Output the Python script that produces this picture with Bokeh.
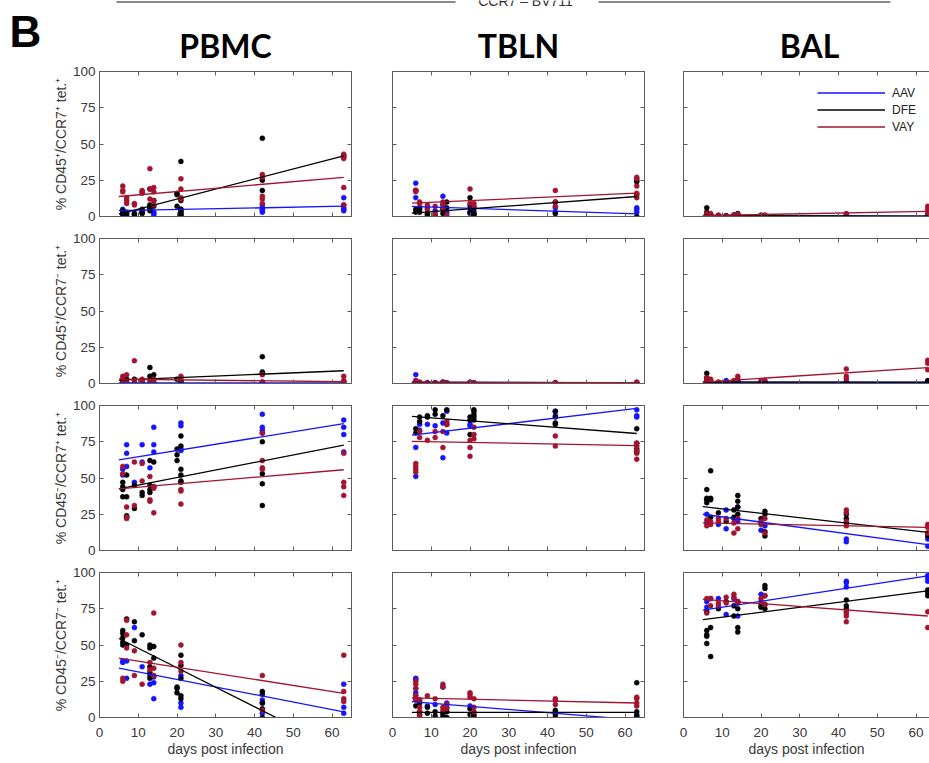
from bokeh.plotting import figure
from bokeh.layouts import column, row
from bokeh.models import Range1d, LinearAxis, FixedTicker, Legend, LegendItem
from bokeh.embed import file_html
from bokeh.resources import INLINE
from bokeh.core.properties import value

# ---------------- data ----------------
GROUPS = ["AAV", "DFE", "VAY"]
TISSUES = ["PBMC", "TBLN", "BAL"]
Y_LABELS = ["% CD45\u207a/CCR7\u207a tet.\u207a",
            "% CD45\u207a/CCR7\u207b tet.\u207a",
            "% CD45\u207b/CCR7\u207a tet.\u207a",
            "% CD45\u207b/CCR7\u207b tet.\u207a"]
X_TICKS = [0, 10, 20, 30, 40, 50, 60]
Y_TICKS = [0, 25, 50, 75, 100]
X_LABEL = "days post infection"
PANEL_LETTER = "B"
TOP_CAPTION = "CCR7 \u2013 BV711"
FIT_DAYS = [5, 63]

# Row 1: CD45+/CCR7+  (day: values)
PBMC1_AAV = {6: [5, 4, 2, 1], 7: [1, 0], 9: [2], 11: [4, 3], 13: [6, 5], 14: [3, 2, 1], 21: [5, 4, 2, 1], 42: [8, 6, 5, 4, 3], 63: [13, 8, 6, 5, 4]}
PBMC1_DFE = {6: [4, 3, 2, 2], 7: [3, 2], 9: [2, 1], 11: [5, 3, 2], 13: [19, 8, 7, 6, 4], 14: [11, 7], 20: [16, 15, 7], 21: [38, 11, 5, 3, 1], 42: [54, 25, 18], 63: [42]}
PBMC1_VAY = {6: [21, 18, 17], 7: [13, 11, 9], 9: [9, 8], 11: [18, 17, 16], 13: [33, 19, 12], 14: [20, 17, 11, 8], 21: [26, 19, 13, 12], 42: [29, 27, 14, 12, 9], 63: [43, 41, 40, 20, 8]}
TBLN1_AAV = {6: [23, 18, 13], 7: [5], 9: [6], 11: [4], 13: [14, 8], 14: [3], 20: [6, 3, 2], 21: [4, 2], 42: [6, 3], 63: [6, 5, 3]}
TBLN1_DFE = {6: [5, 3], 7: [6, 3], 9: [2, 1], 11: [1], 13: [5, 2], 14: [10, 6], 20: [13, 8, 3], 21: [6, 2, 1], 42: [10, 2], 63: [25, 24, 15, 0]}
TBLN1_VAY = {6: [18, 18, 17], 7: [10, 9], 9: [8, 5], 11: [7, 2], 13: [10, 8, 5], 14: [1], 20: [19, 9], 21: [9, 7], 42: [18, 10, 7], 63: [27, 26, 21, 16, 13]}
BAL1_AAV = {6: [1, 0.5], 7: [0.5, 0], 9: [0.5], 11: [0.5], 13: [0.5], 14: [0.5], 20: [0.5], 21: [0.5], 42: [0.3], 63: [0.5]}
BAL1_DFE = {6: [6, 3, 1], 7: [1], 9: [0.5], 11: [0.5], 13: [1], 14: [2, 1], 20: [0.5], 21: [0.5], 42: [0.7], 63: [1, 0]}
BAL1_VAY = {6: [2, 1, 0.5], 7: [2, 1], 9: [1], 11: [0.5], 13: [1], 14: [1.5], 20: [1], 21: [1], 42: [2, 1.5], 63: [7, 5, 2]}

# Row 2: CD45+/CCR7-
PBMC2_AAV = {6: [0.5, 0.2], 7: [0.5], 9: [0.3], 11: [0.5], 13: [0.4], 14: [0.5], 21: [1, 0.5], 42: [1, 0.5], 63: [0.5]}
PBMC2_DFE = {6: [2], 7: [3], 9: [3], 11: [2], 13: [11, 5], 14: [6], 20: [3], 21: [2, 0], 42: [18.5, 8, 7], 63: [1]}
PBMC2_VAY = {6: [5, 3, 2], 7: [6, 1], 9: [15.7, 2], 11: [3, 2], 13: [2], 14: [3, 1], 21: [5, 3], 42: [6, 1], 63: [5, 2, 1]}
TBLN2_AAV = {6: [6, 1], 7: [0.5], 9: [0.5], 11: [0.5], 13: [1], 14: [0.5], 20: [0.5], 21: [0.5], 42: [0.5], 63: [0.5]}
TBLN2_DFE = {6: [1], 7: [0.5], 9: [0.3], 11: [0.3], 13: [0.5], 14: [0.3], 20: [0.5], 21: [0.3], 42: [0.3], 63: [0.3]}
TBLN2_VAY = {6: [2, 1], 7: [1], 9: [0.5], 11: [0.5], 13: [1], 14: [0.5], 20: [1], 21: [0.5], 42: [0.5], 63: [1, 0.5]}
BAL2_AAV = {6: [1, 0.5], 7: [0.5], 9: [0.5], 11: [2], 13: [1], 14: [0.5], 20: [0.5], 21: [0.5], 42: [0.5], 63: [0.5]}
BAL2_DFE = {6: [7, 4, 1], 7: [1], 9: [0.5], 11: [0.5], 13: [1], 14: [2, 1], 20: [0.5], 21: [1], 42: [1], 63: [2, 1]}
BAL2_VAY = {6: [4, 3, 2], 7: [3, 2], 9: [1], 11: [0.5], 13: [2, 1], 14: [5, 3], 20: [2], 21: [2], 42: [10, 5, 3], 63: [16, 14, 9.5]}

# Row 3: CD45-/CCR7+
PBMC3_AAV = {6: [56, 52], 7: [73, 67, 58], 9: [47], 11: [73, 61], 13: [57], 14: [85, 73, 68], 21: [88, 86, 70, 69], 42: [94, 85, 83, 81], 63: [90, 85, 80, 68]}
PBMC3_DFE = {6: [47, 44, 42, 37], 7: [52, 37, 24, 23], 9: [45, 29], 11: [40, 38], 13: [62, 45, 42, 40], 14: [61, 44], 20: [70, 66, 62], 21: [79, 72, 56, 52, 48, 47], 42: [75, 53, 46, 31]}
PBMC3_VAY = {6: [58, 53], 7: [30, 23, 22], 9: [61, 31], 11: [60, 48], 13: [51, 35, 34], 14: [44, 43, 26], 21: [42, 41, 32], 42: [81, 62, 57, 56], 63: [67, 47, 44, 38]}
TBLN3_AAV = {6: [71, 51], 7: [87, 83], 9: [87], 11: [86], 13: [88, 64], 14: [96, 81], 20: [87, 86], 42: [96, 93], 63: [97, 93, 92]}
TBLN3_DFE = {6: [84, 81], 7: [92, 89], 9: [93, 92], 11: [97, 94], 13: [93], 14: [97, 87], 20: [92, 90, 80], 21: [97, 96, 94, 92, 90], 42: [96, 92, 88, 87], 63: [84, 74, 70, 68]}
TBLN3_VAY = {6: [60, 58, 56, 54], 7: [82, 78], 9: [76], 11: [82, 78], 13: [82, 71], 14: [89, 87], 20: [76, 71, 65], 21: [85, 80, 77], 42: [79, 72], 63: [74, 72, 69, 67, 63]}
BAL3_AAV = {6: [25, 19], 9: [18], 11: [28, 15], 13: [22], 14: [30, 20], 20: [14], 21: [17], 42: [8, 6], 63: [8, 3]}
BAL3_DFE = {6: [42, 36, 35, 33], 7: [55, 36, 35, 23], 9: [26], 11: [20], 13: [28, 23], 14: [38, 34, 30, 25], 20: [22, 19], 21: [27, 25, 13, 10], 42: [25, 22, 19], 63: [12, 10]}
BAL3_VAY = {6: [21, 17], 7: [20, 18], 9: [22, 20], 11: [22], 13: [19, 12], 14: [22, 15], 20: [20, 18], 21: [22, 12], 42: [28, 26, 20, 17], 63: [18, 16, 12]}

# Row 4: CD45-/CCR7-
PBMC4_AAV = {6: [39, 38], 7: [39, 27], 9: [62], 11: [35], 13: [29, 23], 14: [28, 24, 13], 21: [29, 10, 7], 42: [12, 10, 3], 63: [23, 7, 3]}
PBMC4_DFE = {6: [60, 58, 55, 52, 50], 7: [68, 50], 9: [66, 53], 11: [57], 13: [50, 48, 35, 31, 27], 14: [49, 41], 20: [21, 20, 17], 21: [43, 36, 27, 15, 13], 42: [18, 16, 10, 6, 0]}
PBMC4_VAY = {6: [27, 25], 7: [67, 57, 48], 9: [46, 29], 11: [23], 13: [38, 33], 14: [72, 34, 29], 21: [50, 38, 32], 42: [29, 5], 63: [43, 18, 13, 11]}
TBLN4_AAV = {6: [27, 26, 20, 17, 15], 7: [12], 9: [8], 11: [9], 13: [21], 14: [10, 7], 20: [8], 42: [3.5], 63: [2]}
TBLN4_DFE = {6: [13, 8], 7: [10, 4, 2], 9: [7, 3], 11: [4, 1], 13: [3, 1], 14: [4, 0], 20: [6, 2], 21: [2, 0.5], 42: [5, 2, 0], 63: [24, 4, 1, 0]}
TBLN4_VAY = {6: [25, 23, 20, 15, 12], 7: [12, 7, 4, 1], 9: [15], 11: [13], 13: [23, 21, 7, 5], 14: [9, 6], 20: [17, 16, 14], 21: [13, 7, 4], 42: [13, 12, 9], 63: [14, 13, 10, 8]}
BAL4_AAV = {6: [80, 76], 7: [82], 9: [82], 11: [71], 13: [82], 14: [80, 70], 20: [85], 21: [84], 42: [94, 93, 90], 63: [98, 96, 94]}
BAL4_DFE = {6: [73, 60, 57, 56, 51], 7: [62, 42], 9: [75], 11: [80], 13: [77, 70], 14: [75, 62, 59], 20: [77, 76], 21: [91, 89, 78, 75], 42: [81, 77, 75], 63: [88, 86, 84]}
BAL4_VAY = {6: [82, 72], 7: [82, 77], 9: [79, 77], 11: [83, 79], 13: [85, 83], 14: [80, 79], 20: [82, 80], 21: [84, 78], 42: [73, 72, 70, 66], 63: [73, 62]}

# fitted-line values at FIT_DAYS (start, end)
FIT1 = [{"AAV": [4, 7.1], "DFE": [1.7, 41.8], "VAY": [13.8, 27]},
        {"AAV": [7, 1.8], "DFE": [2.3, 13.8], "VAY": [9.2, 16.1]},
        {"AAV": [0.5, 0.2], "DFE": [0.8, 0.2], "VAY": [0.6, 3.5]}]
FIT2 = [{"AAV": [0.5, 0.5], "DFE": [2.3, 8.8], "VAY": [3, 1.2]},
        {"AAV": [0.9, 0.5], "DFE": [0.6, 0.4], "VAY": [0.9, 0.6]},
        {"AAV": [1, 0.8], "DFE": [1, 1], "VAY": [1, 11]}]
FIT3 = [{"AAV": [62.5, 87.5], "DFE": [42.5, 72.7], "VAY": [42.5, 55.7]},
        {"AAV": [79.5, 98], "DFE": [92.5, 80.7], "VAY": [75.3, 72.3]},
        {"AAV": [25, 4], "DFE": [30.2, 12.5], "VAY": [19, 16]}]
FIT4 = [{"AAV": [34, 3.9], "DFE": [54.5, -23.5], "VAY": [41, 16.7]},
        {"AAV": [11, -1.7], "DFE": [3.5, 3.5], "VAY": [13.5, 10]},
        {"AAV": [74, 97.7], "DFE": [67.5, 87.3], "VAY": [81.5, 70]}]

PANEL_DATA = [
    [{"AAV": PBMC1_AAV, "DFE": PBMC1_DFE, "VAY": PBMC1_VAY},
     {"AAV": TBLN1_AAV, "DFE": TBLN1_DFE, "VAY": TBLN1_VAY},
     {"AAV": BAL1_AAV, "DFE": BAL1_DFE, "VAY": BAL1_VAY}],
    [{"AAV": PBMC2_AAV, "DFE": PBMC2_DFE, "VAY": PBMC2_VAY},
     {"AAV": TBLN2_AAV, "DFE": TBLN2_DFE, "VAY": TBLN2_VAY},
     {"AAV": BAL2_AAV, "DFE": BAL2_DFE, "VAY": BAL2_VAY}],
    [{"AAV": PBMC3_AAV, "DFE": PBMC3_DFE, "VAY": PBMC3_VAY},
     {"AAV": TBLN3_AAV, "DFE": TBLN3_DFE, "VAY": TBLN3_VAY},
     {"AAV": BAL3_AAV, "DFE": BAL3_DFE, "VAY": BAL3_VAY}],
    [{"AAV": PBMC4_AAV, "DFE": PBMC4_DFE, "VAY": PBMC4_VAY},
     {"AAV": TBLN4_AAV, "DFE": TBLN4_DFE, "VAY": TBLN4_VAY},
     {"AAV": BAL4_AAV, "DFE": BAL4_DFE, "VAY": BAL4_VAY}],
]
FITS = [FIT1, FIT2, FIT3, FIT4]

# ---------------- styling ----------------
COLORS = {"AAV": "#1414ff", "DFE": "#000000", "VAY": "#a2142f"}
AXIS_COLOR = "#5c5c5c"
TEXT_COLOR = "#3a3a3a"
FONT = "Liberation Sans"
TITLE_FONT = "Lato"

COL_W = [352, 294, 283]
LEFT_B = [99, 40, 37]
RIGHT_B = [1, 2, 0]
FRAME_W = [252, 252, 246]
FRAME_H = 145
HEADER_H = 62
FIRST_TOP_B = 9
TOP_B = 12


def flatten(d):
    xs, ys = [], []
    for day, vals in d.items():
        for v in vals:
            xs.append(day)
            ys.append(v)
    return xs, ys


def style_axis(ax, show_labels):
    ax.axis_line_color = AXIS_COLOR
    ax.axis_line_width = 1
    ax.major_tick_line_color = AXIS_COLOR
    ax.major_tick_in = 4
    ax.major_tick_out = 0
    ax.minor_tick_line_color = None
    ax.major_label_text_font = FONT
    ax.axis_label_text_font = FONT
    ax.axis_label_text_font_style = "normal"
    ax.axis_label_text_color = TEXT_COLOR
    ax.axis_label_text_font_size = "14px"
    if show_labels:
        ax.major_label_text_font_size = "13.5px"
        ax.major_label_text_color = TEXT_COLOR
    else:
        # ticks only: labels are not drawn
        ax.major_label_text_font_size = "1px"
        ax.major_label_text_color = None
        ax.major_label_standoff = 0


def make_panel(r, c):
    top_b = FIRST_TOP_B if r == 0 else TOP_B
    bot_b = 46 if r == 3 else 10
    xend = 65 * FRAME_W[c] / 252.0
    p = figure(width=COL_W[c], height=top_b + FRAME_H + bot_b,
               x_range=Range1d(0, xend), y_range=Range1d(0, 100),
               output_backend="svg", toolbar_location=None,
               x_axis_location=None, y_axis_location=None,
               min_border_left=LEFT_B[c], min_border_right=RIGHT_B[c],
               min_border_top=top_b, min_border_bottom=bot_b)
    p.grid.visible = False
    p.background_fill_color = "white"
    p.border_fill_color = "white"
    if c < 2:
        p.outline_line_color = AXIS_COLOR
        p.outline_line_width = 1
    else:
        p.outline_line_color = None

    bottom = LinearAxis(ticker=FixedTicker(ticks=X_TICKS))
    style_axis(bottom, r == 3)
    if r == 3:
        bottom.axis_label = X_LABEL
        bottom.major_label_standoff = 10
        bottom.axis_label_standoff = 1
    p.add_layout(bottom, "below")

    left = LinearAxis(ticker=FixedTicker(ticks=Y_TICKS))
    style_axis(left, c == 0)
    if c == 0:
        left.axis_label = Y_LABELS[r]
        left.major_label_standoff = 4
        left.axis_label_standoff = 1
    p.add_layout(left, "left")

    top = LinearAxis(ticker=FixedTicker(ticks=X_TICKS))
    style_axis(top, False)
    p.add_layout(top, "above")
    if c < 2:
        right = LinearAxis(ticker=FixedTicker(ticks=Y_TICKS))
        style_axis(right, False)
        p.add_layout(right, "right")

    data = PANEL_DATA[r][c]
    fit = FITS[r][c]
    for g in GROUPS:
        xs, ys = flatten(data[g])
        p.scatter(xs, ys, size=5, color=COLORS[g], line_color=COLORS[g], line_width=0.5)
    lines = {}
    for g in GROUPS:
        lines[g] = p.line(FIT_DAYS, fit[g], line_color=COLORS[g], line_width=1.3)

    if r == 0 and c == 2:
        legend = Legend(items=[LegendItem(label=g, renderers=[lines[g]]) for g in GROUPS],
                        location=(134, 81), orientation="vertical",
                        border_line_color=None, background_fill_alpha=0,
                        padding=0, margin=0, spacing=0,
                        glyph_width=68, glyph_height=17, label_height=17,
                        label_standoff=7, label_text_font=FONT,
                        label_text_font_size="12px", label_text_color="#222222")
        p.add_layout(legend)
    return p


# header with panel letter and column titles (y measured upward from header bottom)
header = figure(width=929, height=HEADER_H, x_range=Range1d(0, 929), y_range=Range1d(0, HEADER_H),
                output_backend="svg", toolbar_location=None,
                min_border_left=0, min_border_right=0, min_border_top=0, min_border_bottom=0,
                x_axis_location=None, y_axis_location=None)
header.grid.visible = False
header.outline_line_color = None
header.background_fill_color = "white"
header.border_fill_color = "white"

TITLE_X = [225, 518, 809]
header.text(x=TITLE_X, y=[17.5, 17.5, 17.5], text=TISSUES, text_font=value(TITLE_FONT),
            text_font_style="bold", text_font_size="32px", text_align="center",
            text_baseline="alphabetic", text_color="#000000")
header.text(x=[9], y=[HEADER_H - 31], text=[PANEL_LETTER], text_font=value(FONT), text_font_style="bold",
            text_font_size="44px", text_align="left", text_baseline="alphabetic", text_color="#000000")
header.text(x=[525], y=[HEADER_H], text=[TOP_CAPTION], text_font=value(FONT), text_font_size="14px",
            text_align="center", text_baseline="alphabetic", text_color="#333333")
header.line([116, 455], [HEADER_H - 1.5, HEADER_H - 1.5], line_color="#8a8a8a", line_width=2)
header.line([598, 890], [HEADER_H - 1.5, HEADER_H - 1.5], line_color="#8a8a8a", line_width=2)

rows = [header]
for r in range(4):
    rows.append(row(*[make_panel(r, c) for c in range(3)], spacing=0))
layout = column(*rows, spacing=0)

open("out.html", "w").write(file_html(layout, INLINE))
